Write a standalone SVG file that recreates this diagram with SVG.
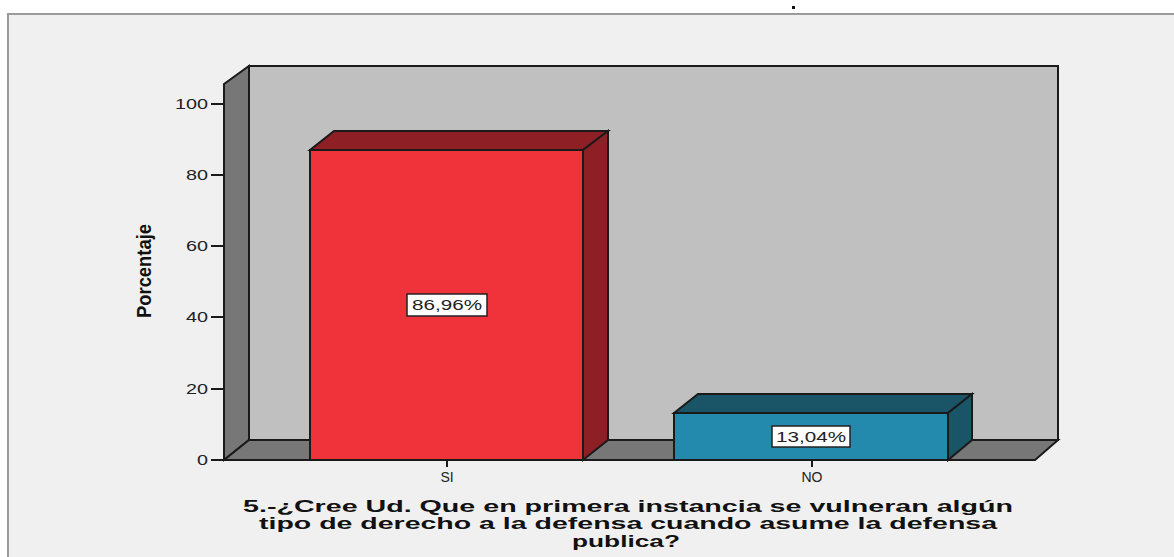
<svg xmlns="http://www.w3.org/2000/svg" width="1174" height="557" viewBox="0 0 1174 557">
<style>
.ax{font-family:"Liberation Sans",Arial,sans-serif;font-size:15px;fill:#222}
.wall{stroke:#1a1a1a;stroke-width:2;stroke-linejoin:miter}
.tick{stroke:#1a1a1a;stroke-width:2}
.lbl{font-family:"Liberation Sans",Arial,sans-serif;font-size:14px;fill:#222;text-anchor:middle}
.title{font-family:"Liberation Sans",Arial,sans-serif;font-size:17px;font-weight:bold;fill:#111;text-anchor:middle}
</style>
<rect x="0" y="0" width="1174" height="557" fill="#ffffff"/>
<rect x="8" y="14" width="1180" height="560" fill="#f0f0f0" stroke="#9a9a9a" stroke-width="2"/>
<rect x="792" y="6" width="3" height="3" fill="#111"/>
<g id="frame3d">
<polygon class="wall" points="249,66 1058,66 1058,440 249,440" fill="#c0c0c0"/>
<polygon class="wall" points="224,84 249,66 249,440 224,460" fill="#777777"/>
<polygon class="wall" points="224,460 249,440 1058,440 1035,460" fill="#777777"/>
</g>
<g id="yaxis">
<line class="tick" x1="224" y1="84" x2="224" y2="460"/>
<line class="tick" x1="211" y1="104" x2="224" y2="104"/>
<line class="tick" x1="211" y1="175" x2="224" y2="175"/>
<line class="tick" x1="211" y1="246" x2="224" y2="246"/>
<line class="tick" x1="211" y1="317" x2="224" y2="317"/>
<line class="tick" x1="211" y1="389" x2="224" y2="389"/>
<line class="tick" x1="211" y1="460" x2="224" y2="460"/>
<text class="ax" x="208" y="109" text-anchor="end" textLength="33" lengthAdjust="spacingAndGlyphs">100</text>
<text class="ax" x="208" y="180" text-anchor="end" textLength="22" lengthAdjust="spacingAndGlyphs">80</text>
<text class="ax" x="208" y="251" text-anchor="end" textLength="22" lengthAdjust="spacingAndGlyphs">60</text>
<text class="ax" x="208" y="322" text-anchor="end" textLength="22" lengthAdjust="spacingAndGlyphs">40</text>
<text class="ax" x="208" y="394" text-anchor="end" textLength="22" lengthAdjust="spacingAndGlyphs">20</text>
<text class="ax" x="208" y="465" text-anchor="end" textLength="11" lengthAdjust="spacingAndGlyphs">0</text>
<text x="0" y="0" transform="translate(151,271) rotate(-90)" text-anchor="middle" textLength="94" lengthAdjust="spacingAndGlyphs" style="font-family:'Liberation Sans',Arial,sans-serif;font-size:20px;font-weight:bold;fill:#111">Porcentaje</text>
</g>
<g id="bar-si">
<polygon class="wall" points="310,150 334,131 608,131 583,150" fill="#8e1f24"/>
<polygon class="wall" points="583,150 608,131 608,440 583,460" fill="#8e1f24"/>
<rect class="wall" x="310" y="150" width="273" height="310" fill="#f0323a"/>
<rect x="407" y="294" width="80" height="22" fill="#ffffff" stroke="#222" stroke-width="1.5"/>
<text class="lbl" x="447" y="310" textLength="70" lengthAdjust="spacingAndGlyphs">86,96%</text>
</g>
<g id="bar-no">
<polygon class="wall" points="674,413 698,394 972,394 948,413" fill="#1a5467"/>
<polygon class="wall" points="948,413 972,394 972,440 948,460" fill="#1a5467"/>
<rect class="wall" x="674" y="413" width="274" height="47" fill="#238aad"/>
<rect x="772" y="426" width="78" height="21" fill="#ffffff" stroke="#222" stroke-width="1.5"/>
<text class="lbl" x="811" y="442" textLength="70" lengthAdjust="spacingAndGlyphs">13,04%</text>
</g>
<g id="xaxis">
<line class="tick" x1="224" y1="460" x2="1035" y2="460"/>
<line class="tick" x1="447" y1="460" x2="447" y2="467"/>
<line class="tick" x1="812" y1="460" x2="812" y2="467"/>
<text class="lbl" x="447" y="482">SI</text>
<text class="lbl" x="812" y="482">NO</text>
</g>
<g id="title">
<text class="title" x="628" y="512" textLength="770" lengthAdjust="spacingAndGlyphs">5.-¿Cree Ud. Que en primera instancia se vulneran algún</text>
<text class="title" x="628" y="529" textLength="738" lengthAdjust="spacingAndGlyphs">tipo de derecho a la defensa cuando asume la defensa</text>
<text class="title" x="626" y="547" textLength="108" lengthAdjust="spacingAndGlyphs">publica?</text>
</g>
</svg>
